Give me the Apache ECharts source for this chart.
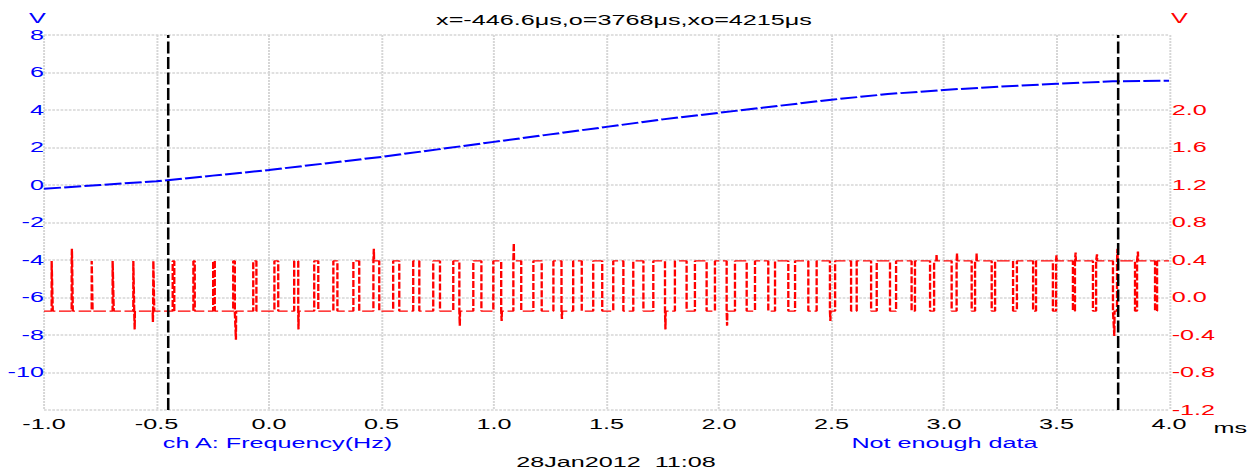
<!DOCTYPE html>
<html><head><meta charset="utf-8">
<script src="https://cdn.jsdelivr.net/npm/echarts@6/dist/echarts.min.js"></script>
<style>
html,body{margin:0;padding:0;background:#fff;overflow:hidden}
#chart{width:697px;height:472px;transform-origin:0 0;}
</style></head><body><div id="chart"></div>
<script>
// ---------- data ----------
const titleText = 'x=-446.6\u03bcs,o=3768\u03bcs,xo=4215\u03bcs';
const dateText = '28Jan2012\u00a0 11:08';
const chAText = 'ch A: Frequency(Hz)';
const chBText = 'Not enough data';
const xUnit = 'ms';
const leftUnit = 'V';
const rightUnit = 'V';
const cursorTimes = [-0.4466, 3.768];

// channel A (blue, left axis, V)
const blueTimes  = [-1.0, -0.75, -0.5, -0.25, 0.0, 0.25, 0.5, 0.75, 1.0, 1.25, 1.5, 1.75, 2.0, 2.25, 2.5, 2.75, 3.0, 3.25, 3.5, 3.75, 4.0];
const blueValues = [-0.2, 0.0, 0.2, 0.5, 0.8, 1.15, 1.5, 1.9, 2.3, 2.7, 3.1, 3.5, 3.85, 4.2, 4.55, 4.85, 5.07, 5.25, 5.4, 5.53, 5.56];

// channel B (red, right axis, V) : pulse edges in ms
const riseTimes = [-0.966, -0.877, -0.788, -0.695, -0.603, -0.514, -0.428, -0.336, -0.248, -0.159,
  -0.070, 0.024, 0.112, 0.201, 0.286, 0.375, 0.464, 0.552, 0.641, 0.730,
  0.819, 0.908, 0.997, 1.086, 1.175, 1.264, 1.352, 1.441, 1.530, 1.619,
  1.708, 1.804, 1.893, 1.982, 2.071, 2.160, 2.249, 2.338, 2.434, 2.516,
  2.612, 2.701, 2.787, 2.871, 2.956, 3.056, 3.138, 3.227, 3.324, 3.409,
  3.498, 3.582, 3.676, 3.769, 3.858, 3.947];
const fallTimes = [-0.961, -0.872, -0.784, -0.690, -0.599, -0.510, -0.421, -0.330, -0.241, -0.152,
  -0.056, 0.041, 0.130, 0.219, 0.304, 0.401, 0.490, 0.579, 0.668, 0.760,
  0.846, 0.944, 1.032, 1.121, 1.212, 1.300, 1.390, 1.481, 1.575, 1.664,
  1.760, 1.856, 1.945, 2.034, 2.123, 2.219, 2.308, 2.397, 2.493, 2.587,
  2.676, 2.760, 2.856, 2.938, 3.034, 3.123, 3.212, 3.307, 3.396, 3.484,
  3.573, 3.662, 3.751, 3.849, 3.938];
const highLevel = 0.39;
const lowLevel = -0.145;
const glitchTimes  = [-0.876, -0.597, -0.516, -0.147, 0.131, 0.466, 0.848, 1.034, 1.088, 1.302, 1.762, 2.036, 2.495, 2.967, 3.058, 3.145, 3.500, 3.585, 3.680, 3.757, 3.771, 3.862];
const glitchValues = [0.52, -0.34, -0.26, -0.45, -0.34, 0.52, -0.30, -0.25, 0.58, -0.23, -0.34, -0.30, -0.25, 0.46, 0.47, 0.47, 0.45, 0.48, 0.46, -0.41, 0.52, 0.49];

const xTicks = {min: -1.0, max: 4.0, interval: 0.5};
const leftTicks = {min: -12, max: 8, interval: 2};
const rightTicks = {min: -1.2, max: 2.8, interval: 0.4};

// ---------- build ----------
const S = 1254 / 697;
const el = document.getElementById('chart');
el.style.transform = 'scaleX(' + S + ')';
const X = px => px / S;

function levelAt(t) {
  for (let k = 0; k < riseTimes.length; k++) {
    const r = riseTimes[k];
    const f = k < fallTimes.length ? fallTimes[k] : xTicks.max;
    if (t >= r && t <= f) return highLevel;
  }
  return lowLevel;
}
let redPts = [[xTicks.min, lowLevel]];
for (let k = 0; k < riseTimes.length; k++) {
  redPts.push([riseTimes[k], lowLevel], [riseTimes[k], highLevel]);
  if (k < fallTimes.length) redPts.push([fallTimes[k], highLevel], [fallTimes[k], lowLevel]);
}
redPts.push([xTicks.max, levelAt(xTicks.max)]);
let gl = [];
glitchTimes.forEach((t, i) => {
  const lv = levelAt(t);
  gl.push([t - 0.001, lv], [t, glitchValues[i]], [t + 0.001, lv]);
});
redPts = redPts.concat(gl).map((p, i) => ({p, i}))
  .sort((a, b) => a.p[0] - b.p[0] || a.i - b.i).map(o => o.p);

const bluePts = blueTimes.map((t, i) => [t, blueValues[i]]);

const FONT = "'Liberation Sans', Arial, sans-serif";
const chart = echarts.init(el, null, {renderer: 'svg'});
const fmt1 = v => (Math.abs(v) < 1e-9 ? 0 : v).toFixed(1);

chart.setOption({
  animation: false,
  backgroundColor: '#fff',
  grid: {left: X(44), right: X(1254 - 1169), top: 35, bottom: 472 - 410, containLabel: false},
  xAxis: {
    type: 'value', min: xTicks.min, max: xTicks.max, interval: xTicks.interval,
    axisLine: {show: false}, axisTick: {show: false},
    axisLabel: {color: '#000', fontSize: 14, fontFamily: FONT, margin: 7, formatter: fmt1,
      showMinLabel: true, showMaxLabel: true},
    splitLine: {show: true, lineStyle: {color: '#d6d6d6', width: 1.1, type: [2, 1]}}
  },
  yAxis: [{
    type: 'value', position: 'left', min: leftTicks.min, max: leftTicks.max, interval: leftTicks.interval,
    axisLine: {show: false}, axisTick: {show: false},
    axisLabel: {color: '#0000ff', fontSize: 14, fontFamily: FONT, margin: 0,
      formatter: v => (v <= leftTicks.min + 1e-9 ? '' : String(Math.round(v)))},
    splitLine: {show: true, lineStyle: {color: '#d6d6d6', width: 1.5, type: [1.5, 0.8]}}
  }, {
    type: 'value', position: 'right', min: rightTicks.min, max: rightTicks.max, interval: rightTicks.interval,
    axisLine: {show: false}, axisTick: {show: false},
    axisLabel: {color: '#ff0000', fontSize: 14, fontFamily: FONT, margin: 1.5,
      formatter: v => (v > 2.0 + 1e-6 ? '' : fmt1(v))},
    splitLine: {show: false}
  }],
  series: [{
    name: chBText, type: 'line', yAxisIndex: 1, data: redPts, showSymbol: false, symbol: 'none',
    lineStyle: {color: '#ff0000', width: 1.3, type: [7, 2]}, z: 2
  }, {
    name: chAText, type: 'line', yAxisIndex: 0, data: bluePts, showSymbol: false, symbol: 'none',
    lineStyle: {color: '#0000ff', width: 2, type: [9.5, 1.8]}, z: 3,
    markLine: {
      silent: true, symbol: 'none', label: {show: false},
      lineStyle: {color: '#000', width: 1.4, type: [12, 3.5]},
      data: cursorTimes.map(t => ({xAxis: t}))
    }
  }],
  graphic: [
    {type: 'text', x: X(624), y: 20, style: {text: titleText, fill: '#000', font: '14px ' + FONT, textAlign: 'center', textVerticalAlign: 'middle'}},
    {type: 'text', x: X(37.5), y: 18.5, style: {text: leftUnit, fill: '#0000ff', font: '14px ' + FONT, textAlign: 'center', textVerticalAlign: 'middle'}},
    {type: 'text', x: X(1179.5), y: 18.5, style: {text: rightUnit, fill: '#ff0000', font: '14px ' + FONT, textAlign: 'center', textVerticalAlign: 'middle'}},
    {type: 'text', x: X(1213.5), y: 428, style: {text: xUnit, fill: '#000', font: '14px ' + FONT, textAlign: 'left', textVerticalAlign: 'middle'}},
    {type: 'text', x: X(277.5), y: 443, style: {text: chAText, fill: '#0000ff', font: '14px ' + FONT, textAlign: 'center', textVerticalAlign: 'middle'}},
    {type: 'text', x: X(944.5), y: 443, style: {text: chBText, fill: '#0000ff', font: '14px ' + FONT, textAlign: 'center', textVerticalAlign: 'middle'}},
    {type: 'text', x: X(616), y: 462.5, style: {text: dateText, fill: '#000', font: '14px ' + FONT, textAlign: 'center', textVerticalAlign: 'middle'}}
  ]
});
</script></body></html>
